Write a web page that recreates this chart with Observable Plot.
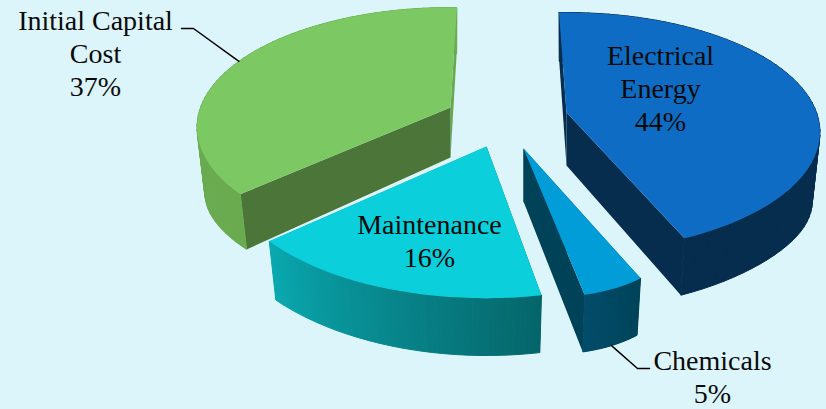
<!DOCTYPE html>
<html>
<head>
<meta charset="utf-8">
<script src="https://cdn.jsdelivr.net/npm/d3@7"></script>
<script src="https://cdn.jsdelivr.net/npm/@observablehq/plot@0.6"></script>
<style>
  html, body { margin: 0; padding: 0; background: #dcf5fa; }
  svg { display: block; }
</style>
</head>
<body>
<div id="chart"></div>
<script>
// Share of lifetime cost, in percent
const categories = ["Electrical Energy", "Chemicals", "Maintenance", "Initial Capital Cost"];
const shares = [44, 5, 16, 37];
const labelLines = [
  "Electrical\nEnergy\n44%",
  "Chemicals\n5%",
  "Maintenance\n16%",
  "Initial Capital\nCost\n37%"
];

// Colours: top face, first cut wall, last cut wall, rim shading along the sweep
const topColors = ["#0f6cc4", "#009dd8", "#0bcfda", "#7cc963"];
const firstWallColors = ["#062c4e", "#004358", "#05666a", "#4b7539"];
const lastWallColors = ["#062c4e", "#004358", "#0aa8b0", "#6aa84f"];
const rimStart = ["#062c4e", "#00445a", "#05666a", "#6aab50"];
const rimEnd = ["#062c4e", "#024c6a", "#0aa8b0", "#6aab50"];

// Where each exploded wedge sits: tip, start bearing (degrees clockwise from the back),
// foreshortening, reach, thickness, and a per-wedge horizontal squeeze and shear
const tipX = [566, 523, 486, 450];
const tipY = [112, 148, 146, 107];
const startBearing = [-2, 154, 170, 228.5];
const perspective = [0.165, 0.1935, 0.1935, 0.165];
const reach = [1, 1, 1.02, 1];
const thickness = [53, 53, 53, 50];
const squeeze = [1, 0.665, 1, 1];
const shear = [0, 0.222, 0, 0];

// Label anchors and leader elbows in chart units
const labelX = [660, 712, 429, 95];
const labelY = [87, 375, 239, 52];
const leaderElbows = [null, [[637, 368], [649, 368]], null, [[193, 28], [181, 28]]];
const leaderOnBase = [false, true, false, false];

// Tilted-disc projection
const radius = 250, backReach = 100, steps = 60;

function project(i, bearing, r, z) {
  const a = bearing * Math.PI / 180;
  const u = r * Math.sin(a), v = r * Math.cos(a);
  const p = perspective[i];
  const d = 1 + p * v;
  const px = radius * u / d, py = -backReach * (1 + p) * v / d;
  return {
    x: tipX[i] + (squeeze[i] * px + shear[i] * py) * (1 - 0.03 * z),
    y: tipY[i] + py + z * thickness[i] * (1 - 0.08 * v) * (1 + 0.28 * u ** 6)
  };
}

function arc(i, z) {
  const sweep = shares[i] / 100 * 360;
  return d3.range(steps + 1).map(s => project(i, startBearing[i] + sweep * s / steps, reach[i], z));
}

const face = (points, fill, stroke = "none") =>
  Plot.line(points, {x: "x", y: "y", fill, stroke, strokeWidth: 1, curve: "linear"});

const wedgeMarks = categories.flatMap((name, i) => {
  const top = arc(i, 0), base = arc(i, 1);
  const tip = project(i, 0, 0, 0), tipBase = project(i, 0, 0, 1);
  const shade = d3.interpolateRgb(rimStart[i], rimEnd[i]);
  // The rim is a run of narrow closed quads so its silhouette stays whole where it turns under the top
  const rim = d3.range(steps).map(s => {
    const color = shade(s / (steps - 1));
    return face([top[s], top[s + 1], base[s + 1], base[s], top[s]], color, color);
  });
  return [
    face([tip, top[steps], base[steps], tipBase], lastWallColors[i]),
    face([tip, top[0], base[0], tipBase], firstWallColors[i]),
    ...rim,
    face([tip, ...top], topColors[i])
  ];
});

const leaderMarks = categories.flatMap((name, i) => {
  if (!leaderElbows[i]) return [];
  const mid = startBearing[i] + shares[i] / 100 * 180;
  const from = project(i, mid, reach[i], leaderOnBase[i] ? 1 : 0);
  const rest = leaderElbows[i].map(([x, y]) => ({x, y}));
  return [Plot.line([from, ...rest], {x: "x", y: "y", stroke: "#000", strokeWidth: 1.5})];
});

const labels = categories.map((name, i) => ({text: labelLines[i], x: labelX[i], y: labelY[i]}));

const chart = Plot.plot({
  width: 826,
  height: 409,
  margin: 0,
  style: {background: "#dcf5fa"},
  x: {domain: [0, 826], range: [0, 826], axis: null},
  y: {domain: [0, 409], range: [0, 409], axis: null},
  marks: [
    ...wedgeMarks,
    ...leaderMarks,
    Plot.text(labels, {
      x: "x", y: "y", text: "text",
      textAnchor: "middle", lineAnchor: "middle", lineHeight: 1.18,
      fontFamily: "Liberation Serif", fontSize: 28, fill: "#0a0a0a"
    })
  ]
});
document.getElementById("chart").append(chart);
</script>
</body>
</html>
